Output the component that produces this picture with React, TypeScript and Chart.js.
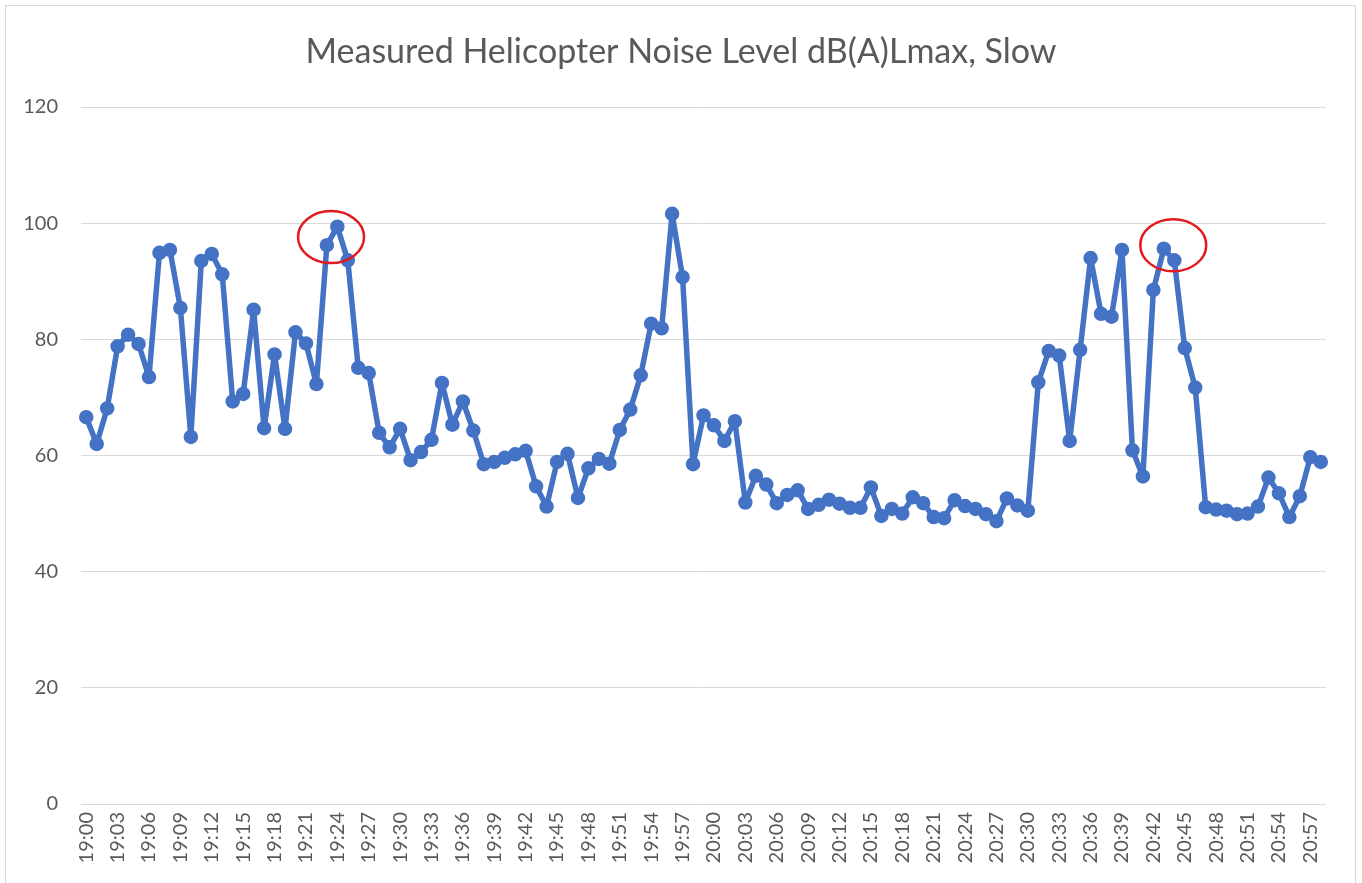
import React, { useEffect, useRef } from "react";
import { Chart, registerables } from "chart.js";

Chart.register(...registerables);

// Minute-by-minute labels 19:00 … 20:58
const firstMinute = 19 * 60;
const minuteCount = 119;
const timeLabels: string[] = Array.from({ length: minuteCount }, (_, i) => {
  const m = firstMinute + i;
  return `${Math.floor(m / 60)}:${String(m % 60).padStart(2, "0")}`;
});

// Measured dB(A) Lmax values, 19:00–19:59
const noiseHour19: number[] = [
  66.6, 62.0, 68.1, 78.8, 80.8, 79.2, 73.5, 94.9, 95.4, 85.4,
  63.2, 93.5, 94.7, 91.2, 69.3, 70.6, 85.1, 64.7, 77.4, 64.6,
  81.2, 79.3, 72.3, 96.2, 99.4, 93.6, 75.1, 74.2, 63.9, 61.4,
  64.6, 59.2, 60.6, 62.7, 72.5, 65.3, 69.3, 64.3, 58.5, 58.9,
  59.6, 60.2, 60.8, 54.7, 51.2, 58.9, 60.3, 52.7, 57.8, 59.4,
  58.6, 64.4, 67.9, 73.8, 82.7, 81.9, 101.6, 90.7, 58.5, 66.9,
];
// Measured dB(A) Lmax values, 20:00–20:58
const noiseHour20: number[] = [
  65.2, 62.5, 65.9, 51.9, 56.5, 55.0, 51.8, 53.2, 54.0, 50.8,
  51.5, 52.4, 51.7, 51.0, 51.0, 54.5, 49.6, 50.8, 50.0, 52.8,
  51.8, 49.4, 49.2, 52.3, 51.3, 50.8, 49.9, 48.7, 52.6, 51.4,
  50.5, 72.6, 78.0, 77.2, 62.5, 78.2, 94.0, 84.4, 83.9, 95.4,
  60.9, 56.4, 88.5, 95.6, 93.6, 78.5, 71.7, 51.1, 50.7, 50.5,
  49.9, 50.0, 51.2, 56.2, 53.5, 49.4, 53.0, 59.7, 58.9,
];
const noiseLevels: number[] = [...noiseHour19, ...noiseHour20];

// y-axis
const yMin = 0;
const yMax = 120;
const yStep = 20;

// highlighted peaks (category index centre, dB centre)
const highlightIndex: number[] = [23.4, 103.9];
const highlightValue: number[] = [97.6, 96.2];

const TITLE = "Measured Helicopter Noise Level dB(A)Lmax, Slow";
const FONT = "Lato, 'Open Sans', sans-serif";
const TEXT_GREY = "#595959";
const GRID_GREY = "#d9d9d9";
const LINE_BLUE = "#4472C4";

const framePlugin = {
  id: "frame",
  beforeDraw(chart: any) {
    const ctx = chart.ctx;
    ctx.save();
    ctx.fillStyle = "#ffffff";
    ctx.fillRect(0, 0, chart.width, chart.height);
    ctx.strokeStyle = GRID_GREY;
    ctx.lineWidth = 1;
    ctx.strokeRect(5.5, 5.5, 1350, 900);
    ctx.restore();
  },
};

const ellipsePlugin = {
  id: "peakEllipses",
  afterDatasetsDraw(chart: any) {
    const ctx = chart.ctx;
    const xs = chart.scales.x;
    const ys = chart.scales.y;
    ctx.save();
    ctx.strokeStyle = "#e31a1c";
    ctx.lineWidth = 2.5;
    highlightIndex.forEach((idx, i) => {
      const cx = xs.getPixelForValue(idx);
      const cy = ys.getPixelForValue(highlightValue[i]);
      ctx.beginPath();
      ctx.ellipse(cx, cy, 33, 26, 0, 0, Math.PI * 2);
      ctx.stroke();
    });
    ctx.restore();
  },
};

export default function App() {
  const canvasRef = useRef<HTMLCanvasElement | null>(null);

  useEffect(() => {
    if (!canvasRef.current) return;
    const chart = new Chart(canvasRef.current, {
      type: "line",
      data: {
        labels: timeLabels,
        datasets: [
          {
            label: "dB(A) Lmax",
            data: noiseLevels,
            yAxisID: "y",
            borderColor: LINE_BLUE,
            backgroundColor: LINE_BLUE,
            borderWidth: 5.5,
            borderJoinStyle: "round",
            borderCapStyle: "round",
            pointRadius: 6.5,
            pointBorderWidth: 1.5,
            pointBackgroundColor: LINE_BLUE,
            pointBorderColor: LINE_BLUE,
            tension: 0,
          },
        ],
      },
      options: {
        responsive: false,
        animation: false,
        devicePixelRatio: 1,
        layout: { padding: { left: 0, right: 0, top: 0, bottom: 0 } },
        plugins: {
          legend: { display: false },
          tooltip: { enabled: false },
          title: {
            display: true,
            text: TITLE,
            color: TEXT_GREY,
            font: { family: FONT, size: 34, weight: "normal" },
            padding: { top: 31.5, bottom: 34.7 },
          },
        },
        scales: {
          x: {
            type: "category",
            offset: true,
            grid: { display: false, drawTicks: false },
            border: { display: false },
            ticks: {
              autoSkip: false,
              minRotation: 90,
              maxRotation: 90,
              padding: 8,
              color: TEXT_GREY,
              font: { family: FONT, size: 20 },
              callback: (_v: any, index: number) =>
                index % 3 === 0 ? timeLabels[index] : "",
            },
            afterFit: (scale: any) => {
              scale.height = 79;
            },
          },
          y: {
            position: "left",
            min: yMin,
            max: yMax,
            grid: { color: GRID_GREY, lineWidth: 1, drawTicks: false },
            border: { display: false },
            ticks: {
              stepSize: yStep,
              padding: 23,
              color: TEXT_GREY,
              font: { family: FONT, size: 20 },
            },
            afterFit: (scale: any) => {
              scale.width = 81;
            },
          },
          yRightSpace: {
            position: "right",
            min: yMin,
            max: yMax,
            grid: { display: false, drawTicks: false },
            border: { display: false },
            ticks: { display: false },
            afterFit: (scale: any) => {
              scale.width = 36;
            },
          },
        },
      },
      plugins: [framePlugin, ellipsePlugin],
    });
    return () => chart.destroy();
  }, []);

  return (
    <div style={{ position: "fixed", left: 0, top: 0, width: 1362, height: 883, background: "#fff" }}>
      <canvas ref={canvasRef} width={1362} height={883} style={{ width: 1362, height: 883, display: "block" }} />
    </div>
  );
}
